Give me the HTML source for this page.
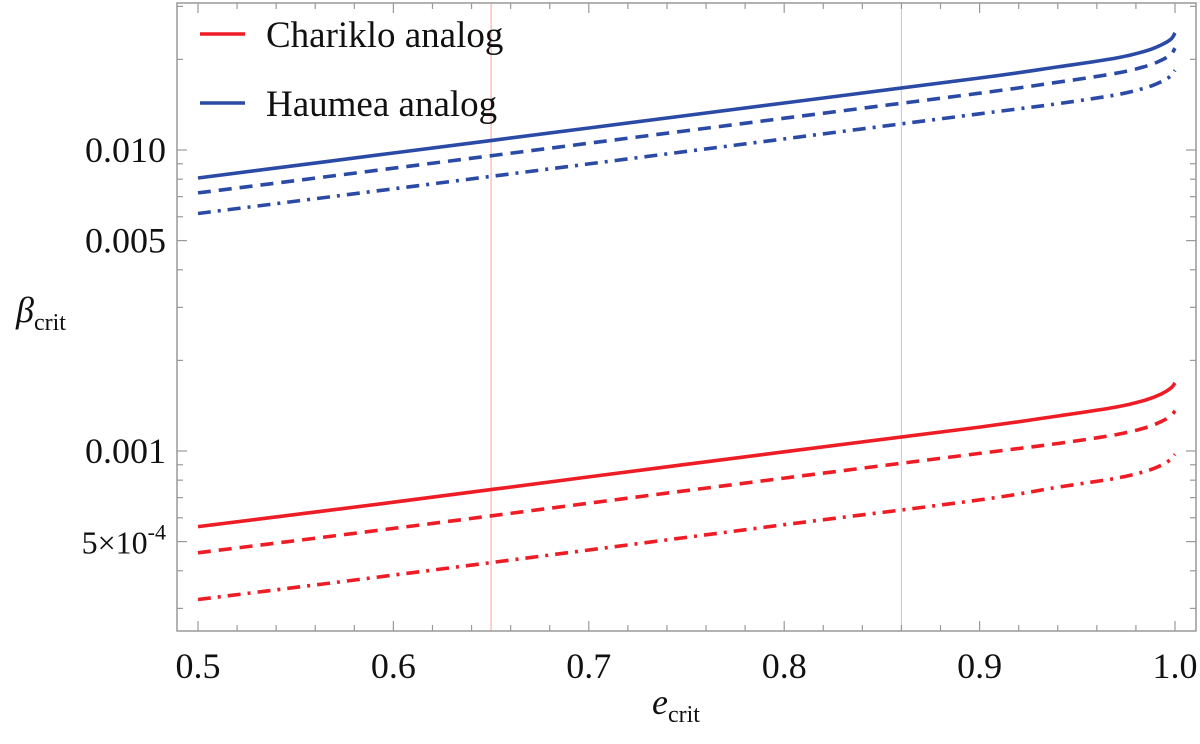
<!DOCTYPE html>
<html><head><meta charset="utf-8"><style>
html,body{margin:0;padding:0;background:#fff;}
svg text{font-family:"Liberation Serif",serif;fill:#111;}
</style></head><body>
<svg id="chart" width="1200" height="739" viewBox="0 0 1200 739" xmlns="http://www.w3.org/2000/svg">
<g id="grid"></g>
<g id="series"></g>
<rect x="177" y="3" width="1019" height="628" fill="none" stroke="#999" stroke-width="1.5"/>
<g id="axes"></g>
<g>
<line x1="200" y1="34" x2="245" y2="34" stroke="#ee1c25" stroke-width="3.5"/>
<text x="266" y="47" font-size="37">Chariklo analog</text>
<line x1="200" y1="103" x2="245" y2="103" stroke="#2b4aa6" stroke-width="3.5"/>
<text x="266" y="116" font-size="37">Haumea analog</text>
</g>
<text x="16" y="322" font-size="36" font-style="italic">β<tspan font-size="24" font-style="normal" dy="8">crit</tspan></text>
<text x="652" y="714" font-size="36" font-style="italic">e<tspan font-size="24" font-style="normal" dy="8">crit</tspan></text>
</svg>
<script>
const eVals = [0.5,0.6,0.7,0.8,0.9,0.94,0.97,0.985,0.993,0.998,1.0];
const haumeaSolid = [0.00807,0.00977,0.01183,0.01433,0.01735,0.01888,0.02021,0.02132,0.02234,0.02338,0.0245];
const haumeaDashed = [0.00720,0.00870,0.01053,0.01275,0.01544,0.0168,0.01799,0.01897,0.01988,0.02081,0.0218];
const haumeaDashDot = [0.00615,0.00743,0.00899,0.01089,0.01319,0.01425,0.01526,0.0161,0.01687,0.01765,0.0184];
const charikloSolid = [0.000561,0.000676,0.000820,0.000994,0.001201,0.001307,0.0014,0.001477,0.001547,0.00162,0.001683];
const charikloDashed = [0.000459,0.000553,0.000671,0.000813,0.000982,0.001059,0.001134,0.001196,0.001253,0.001312,0.00136];
const charikloDashDot = [0.000321,0.000387,0.000469,0.000569,0.000688,0.000758,0.000812,0.000857,0.000897,0.00094,0.000975];
const xTicks = [0.5,0.6,0.7,0.8,0.9,1.0];
const xTickLabels = ["0.5","0.6","0.7","0.8","0.9","1.0"];
const yTicks = [0.01,0.005,0.001,0.0005];
const yTickLabels = ["0.010","0.005","0.001","5×10"];
const refLines = [0.65,0.86];

const NS="http://www.w3.org/2000/svg";
function xS(e){return 198+(e-0.5)/0.5*977;}
function yS(v){return 150-(Math.log10(v)+2)*301;}
function mk(tag,attrs,parent){const el=document.createElementNS(NS,tag);for(const k in attrs)el.setAttribute(k,attrs[k]);parent.appendChild(el);return el;}
const grid=document.getElementById('grid'),ser=document.getElementById('series'),ax=document.getElementById('axes');
const refColors=["#ffb0b0","#c8cde8"];
refLines.forEach((r,i)=>{const l=mk('line',{x1:xS(r),x2:xS(r),y1:3,y2:631,stroke:refColors[i],'stroke-width':1.2},grid);

});
function smoothPath(pts){let d='M'+pts[0][0].toFixed(1)+' '+pts[0][1].toFixed(1);
for(let i=0;i<pts.length-1;i++){const p0=pts[Math.max(0,i-1)],p1=pts[i],p2=pts[i+1],p3=pts[Math.min(pts.length-1,i+2)];
const c1=[p1[0]+(p2[0]-p0[0])/6,p1[1]+(p2[1]-p0[1])/6],c2=[p2[0]-(p3[0]-p1[0])/6,p2[1]-(p3[1]-p1[1])/6];
d+=' C'+c1[0].toFixed(1)+' '+c1[1].toFixed(1)+' '+c2[0].toFixed(1)+' '+c2[1].toFixed(1)+' '+p2[0].toFixed(1)+' '+p2[1].toFixed(1);}
return d;}
const series=[[haumeaSolid,'#2b4aa6','none','haumea-solid'],[haumeaDashed,'#2b4aa6','13 8','haumea-dashed'],[haumeaDashDot,'#2b4aa6','13 7 3 7','haumea-dashdot'],
[charikloSolid,'#ee1c25','none','chariklo-solid'],[charikloDashed,'#ee1c25','13 8','chariklo-dashed'],[charikloDashDot,'#ee1c25','13 7 3 7','chariklo-dashdot']];
series.forEach(s=>{const pts=s[0].map((v,i)=>[xS(eVals[i]),yS(v)]);
const p=mk('path',{d:smoothPath(pts),fill:'none',stroke:s[1],'stroke-width':3.6,'stroke-dasharray':s[2],'stroke-linecap':'butt'},ser);

});
for(let k=0;k<=25;k++){const e=0.5+k*0.02;const major=(k%5===0);const x=xS(e);const len=major?10:6;
mk('line',{x1:x,x2:x,y1:631,y2:631-len,stroke:'#999','stroke-width':1.2},ax);
mk('line',{x1:x,x2:x,y1:3,y2:3+len,stroke:'#999','stroke-width':1.2},ax);}
xTicks.forEach((t,i)=>{const tx=mk('text',{x:xS(t),y:678,'font-size':36,'text-anchor':'middle'},ax);tx.textContent=xTickLabels[i];

});
[-4,-3,-2].forEach(ex=>{for(let m=1;m<=9;m++){const v=m*Math.pow(10,ex);const y=yS(v);if(y<3||y>631)continue;const major=(m===1||m===5);const len=major?10:6;
mk('line',{x1:177,x2:177+len,y1:y,y2:y,stroke:'#999','stroke-width':1.2},ax);
mk('line',{x1:1196,x2:1196-len,y1:y,y2:y,stroke:'#999','stroke-width':1.2},ax);}});
yTicks.forEach((t,i)=>{const tx=mk('text',{x:166,y:yS(t)+12,'font-size':36,'text-anchor':'end'},ax);
if(i===3){tx.setAttribute('font-size',32);tx.textContent=yTickLabels[i];const sp=mk('tspan',{'font-size':22,dy:-14},tx);sp.textContent='-4';}
else tx.textContent=yTickLabels[i];

});
</script>
</body></html>
